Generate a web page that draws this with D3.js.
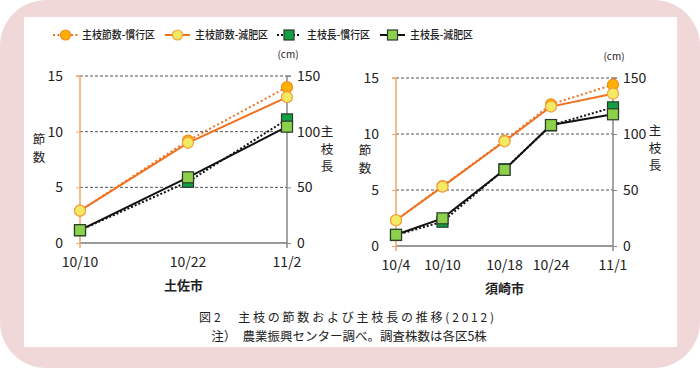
<!DOCTYPE html>
<html>
<head>
<meta charset="utf-8">
<script src="https://cdn.jsdelivr.net/npm/d3@7"></script>
<style>
  html, body { margin: 0; padding: 0; background: #fff; }
  svg { display: block; }
  text { font-family: "Noto Sans CJK JP", "Noto Sans", sans-serif; fill: #222; }
</style>
</head>
<body>
<svg id="chart" width="700" height="368"></svg>
<script>
// --- data ---
const seriesNames = ["主枝節数-慣行区", "主枝節数-減肥区", "主枝長-慣行区", "主枝長-減肥区"];

const tosaDates = ["2012-10-10", "2012-10-22", "2012-11-02"];
const tosaLabels = ["10/10", "10/22", "11/2"];
const tosaNodesConv = [2.9, 9.2, 14.0];
const tosaNodesRed = [2.9, 9.0, 13.1];
const tosaLenConv = [11.5, 55, 111];
const tosaLenRed = [11.5, 59, 104.5];

const susakiDates = ["2012-10-04", "2012-10-10", "2012-10-18", "2012-10-24", "2012-11-01"];
const susakiLabels = ["10/4", "10/10", "10/18", "10/24", "11/1"];
const susakiNodesConv = [2.3, 5.35, 9.4, 12.65, 14.4];
const susakiNodesRed = [2.3, 5.3, 9.35, 12.45, 13.6];
const susakiLenConv = [9.8, 21.7, 68.5, 107.7, 123.8];
const susakiLenRed = [10, 24.7, 68, 108, 117.6];

const nodeTicks = [0, 5, 10, 15];
const lenTicks = [0, 50, 100, 150];

// --- styles ---
const ORANGE = "#ee7222";
const styles = [
  { line: ORANGE, dash: "2,2.5", shape: "circle", fill: "#ffb000", stroke: "#f08a20" },
  { line: ORANGE, dash: null, shape: "circle", fill: "#f2ea62", stroke: "#f3a040" },
  { line: "#111", dash: "2,2", shape: "square", fill: "#12a044", stroke: "#2b3b2b" },
  { line: "#111", dash: null, shape: "square", fill: "#8cd04c", stroke: "#2b3b2b" }
];

const svg = d3.select("#chart");
const parse = d3.timeParse("%Y-%m-%d");

// background frame
svg.append("rect").attr("x", 0).attr("y", 0).attr("width", 700).attr("height", 368)
  .attr("rx", 46).attr("fill", "#f0d8d9");
svg.append("rect").attr("x", 24).attr("y", 17).attr("width", 653).attr("height", 330)
  .attr("fill", "#fff");

// marker helper
const marker = (g, x, y, st, r = 5.5) => {
  if (st.shape === "circle") {
    return g.append("circle").attr("cx", x).attr("cy", y).attr("r", r)
      .attr("fill", st.fill).attr("stroke", st.stroke).attr("stroke-width", 1.2);
  }
  return g.append("rect").attr("x", x - r).attr("y", y - r)
    .attr("width", 2 * r).attr("height", 2 * r)
    .attr("fill", st.fill).attr("stroke", st.stroke).attr("stroke-width", 1.2);
};

// --- legend ---
const legendItems = [
  { x0: 53, x1: 78, tx: 82, w: 73 },
  { x0: 165, x1: 190, tx: 195, w: 73 },
  { x0: 277, x1: 301, tx: 307, w: 63 },
  { x0: 380, x1: 405, tx: 410, w: 63 }
];
const legend = svg.append("g");
legendItems.forEach((it, i) => {
  const st = styles[i];
  legend.append("line").attr("x1", it.x0).attr("x2", it.x1).attr("y1", 35).attr("y2", 35)
    .attr("stroke", st.line).attr("stroke-width", 2)
    .attr("stroke-dasharray", st.dash);
  marker(legend, (it.x0 + it.x1) / 2, 35, st, 5);
  legend.append("text").attr("x", it.tx).attr("y", 35).attr("dy", "0.36em")
    .attr("font-size", 11.5).attr("font-weight", 500)
    .attr("textLength", it.w).attr("lengthAdjust", "spacingAndGlyphs")
    .text(seriesNames[i]);
});

// --- panel ---
function panel(cfg) {
  const g = svg.append("g");
  const dates = cfg.dates.map(parse);
  const x = d3.scaleTime().domain(d3.extent(dates)).range([cfg.left, cfg.right]);
  const yN = d3.scaleLinear().domain([0, 15]).range([cfg.bottom, cfg.top]);
  const yL = d3.scaleLinear().domain([0, 150]).range([cfg.bottom, cfg.top]);

  // gridlines
  g.selectAll(".grid").data(nodeTicks.filter(d => d > 0)).join("line")
    .attr("x1", cfg.left).attr("x2", cfg.right)
    .attr("y1", d => yN(d)).attr("y2", d => yN(d))
    .attr("stroke", "#555").attr("stroke-width", 1).attr("stroke-dasharray", "3,2");

  // bottom axis line
  g.append("line").attr("x1", cfg.left).attr("x2", cfg.right)
    .attr("y1", cfg.bottom).attr("y2", cfg.bottom)
    .attr("stroke", "#999").attr("stroke-width", 2);

  // left axis (nodes)
  const axL = g.append("g").attr("transform", `translate(${cfg.left},0)`)
    .call(d3.axisLeft(yN).tickValues(nodeTicks).tickSize(4).tickPadding(13));
  axL.select(".domain").attr("stroke", "#f3a66a").attr("stroke-width", 1.5)
    .attr("d", `M-4,${cfg.top}H0V${cfg.bottom + 5}`);
  axL.selectAll(".tick line").attr("stroke", "#f3a66a");
  axL.selectAll(".tick text").attr("font-size", 14).attr("fill", "#222")
    .attr("font-family", "'Noto Sans CJK JP', sans-serif");

  // right axis (length)
  const axR = g.append("g").attr("transform", `translate(${cfg.right},0)`)
    .call(d3.axisRight(yL).tickValues(lenTicks).tickSize(4).tickPadding(6));
  axR.select(".domain").attr("stroke", "#888").attr("stroke-width", 1.5)
    .attr("d", `M4,${cfg.top}H0V${cfg.bottom + 5}`);
  axR.selectAll(".tick line").attr("stroke", "#888");
  axR.selectAll(".tick text").attr("font-size", 14).attr("fill", "#222")
    .attr("font-family", "'Noto Sans CJK JP', sans-serif");

  // x labels
  g.selectAll(".xl").data(dates).join("text")
    .attr("x", d => x(d)).attr("y", cfg.bottom + 19)
    .attr("dy", "0.36em").attr("text-anchor", "middle")
    .attr("font-size", 14).text((d, i) => cfg.labels[i]);

  // axis titles, one character per line
  const vertical = (tx, ty, chars) => chars.forEach((c, i) =>
    g.append("text").attr("x", tx).attr("y", ty + i * 17.5)
      .attr("text-anchor", "middle").attr("font-size", 12.5).text(c));
  vertical(cfg.nodeTitleX, cfg.nodeTitleY, ["節", "数"]);
  vertical(cfg.lenTitleX, cfg.lenTitleY, ["主", "枝", "長"]);
  g.append("text").attr("x", cfg.right + 1).attr("y", cfg.top - 18)
    .attr("text-anchor", "middle").attr("font-size", 10).text("(cm)");

  // city name
  g.append("text").attr("x", (cfg.left + cfg.right) / 2).attr("y", cfg.bottom + 47)
    .attr("text-anchor", "middle").attr("font-size", 13).attr("font-weight", 700)
    .text(cfg.city);

  // series
  const series = [
    { vals: cfg.nodesConv, y: yN },
    { vals: cfg.nodesRed, y: yN },
    { vals: cfg.lenConv, y: yL },
    { vals: cfg.lenRed, y: yL }
  ];
  series.forEach((s, i) => {
    const st = styles[i];
    const pts = dates.map((d, j) => [x(d), s.y(s.vals[j])]);
    g.append("path").attr("d", d3.line()(pts))
      .attr("fill", "none").attr("stroke", st.line).attr("stroke-width", 2)
      .attr("stroke-dasharray", st.dash);
    pts.forEach(p => marker(g, p[0], p[1], st));
  });
}

panel({
  dates: tosaDates, labels: tosaLabels, city: "土佐市",
  nodesConv: tosaNodesConv, nodesRed: tosaNodesRed,
  lenConv: tosaLenConv, lenRed: tosaLenRed,
  left: 80, right: 287, top: 76, bottom: 243,
  nodeTitleX: 39, nodeTitleY: 144, lenTitleX: 327, lenTitleY: 136
});

panel({
  dates: susakiDates, labels: susakiLabels, city: "須崎市",
  nodesConv: susakiNodesConv, nodesRed: susakiNodesRed,
  lenConv: susakiLenConv, lenRed: susakiLenRed,
  left: 396, right: 613, top: 78, bottom: 246,
  nodeTitleX: 365, nodeTitleY: 155, lenTitleX: 655, lenTitleY: 135
});

// caption
svg.append("text").attr("x", 348).attr("y", 318).attr("dy", "0.36em")
  .attr("text-anchor", "middle").attr("font-size", 12).attr("letter-spacing", 2.8)
  .text("図2　主枝の節数および主枝長の推移(2012)");
svg.append("text").attr("x", 349).attr("y", 336).attr("dy", "0.36em")
  .attr("text-anchor", "middle").attr("font-size", 12.5)
  .text("注）　農業振興センター調べ。調査株数は各区5株");
</script>
</body>
</html>
